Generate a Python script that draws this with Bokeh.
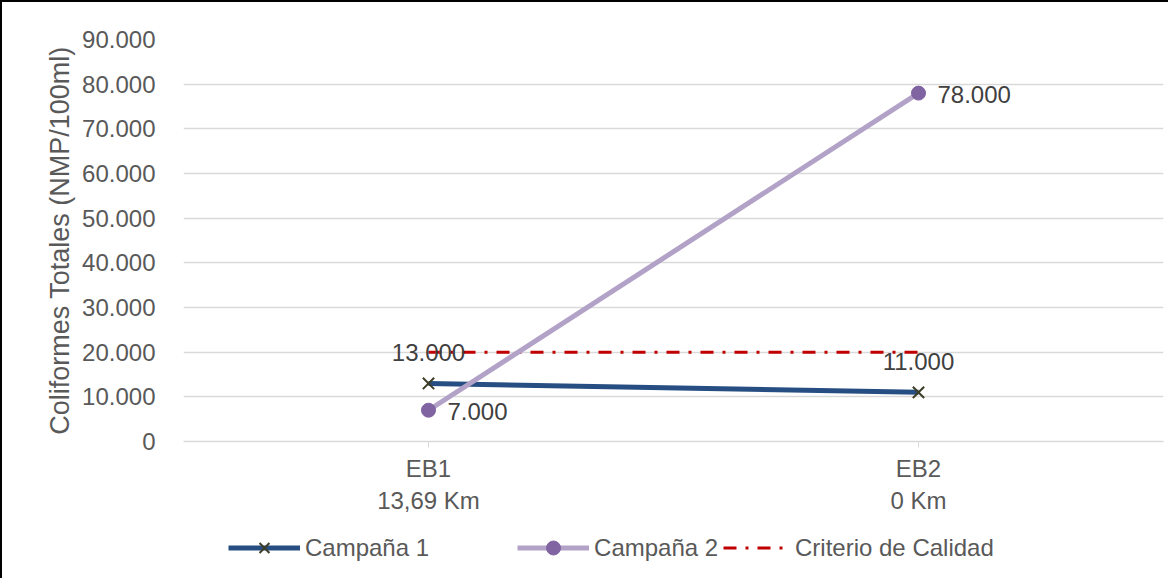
from bokeh.plotting import figure
from bokeh.layouts import column
from bokeh.models import FixedTicker, Legend, LegendItem, ColumnDataSource
from bokeh.core.properties import value
from bokeh.embed import file_html
from bokeh.resources import INLINE

# ---- data ----
stations = ["EB1\n13,69 Km", "EB2\n0 Km"]
campana1 = [13000, 11000]
campana2 = [7000, 78000]
criterio = [20000, 20000]
y_ticks = [0, 10000, 20000, 30000, 40000, 50000, 60000, 70000, 80000, 90000]
series_names = ["Campaña 1", "Campaña 2", "Criterio de Calidad"]


def fmt(v):
    return f"{v:,}".replace(",", ".")


FONT = "Liberation Sans"
FS = "24px"
C1_LINE, C1_MARK = "#264e82", "#3d3d28"
C2_LINE, C2_MARK = "#b3a2c7", "#8064a2"
CR_LINE = "#c00000"

p = figure(x_range=stations, y_range=(0, 90000), width=1168, height=516,
           output_backend="svg", toolbar_location=None,
           min_border_left=181, min_border_right=7, min_border_top=37,
           min_border_bottom=77)
p.x_range.range_padding = 0
p.outline_line_color = None
p.styles = {"border-left": "2px solid black", "border-top": "2px solid black"}

# axes
p.yaxis.ticker = FixedTicker(ticks=y_ticks)
p.yaxis.major_label_overrides = {v: fmt(v) for v in y_ticks}
p.yaxis.axis_line_color = None
p.yaxis.major_tick_line_color = None
p.yaxis.minor_tick_line_color = None
p.yaxis.major_label_text_font = FONT
p.yaxis.major_label_text_font_size = FS
p.yaxis.major_label_text_color = "#595959"
p.yaxis.major_label_standoff = 22
p.yaxis.axis_label = "Coliformes Totales (NMP/100ml)"
p.yaxis.axis_label_text_font = FONT
p.yaxis.axis_label_text_font_size = "27px"
p.yaxis.axis_label_text_font_style = "normal"
p.yaxis.axis_label_text_color = "#595959"
p.yaxis.axis_label_standoff = 4

p.xaxis.axis_line_color = "#d9d9d9"
p.xaxis.axis_line_width = 1.5
p.xaxis.major_tick_line_color = "#d9d9d9"
p.xaxis.major_tick_in = 0
p.xaxis.major_tick_out = 6
p.xaxis.major_label_text_font = FONT
p.xaxis.major_label_text_font_size = FS
p.xaxis.major_label_text_color = "#595959"
p.xaxis.major_label_standoff = 7

p.xgrid.grid_line_color = None
p.ygrid.grid_line_color = "#d9d9d9"
p.ygrid.grid_line_width = 1.5

src = ColumnDataSource(dict(x=stations, c1=campana1, c2=campana2, cr=criterio,
                            l1=[fmt(v) for v in campana1],
                            l2=[fmt(v) for v in campana2]))


def draw(fig):
    r_cr = fig.line("x", "cr", source=src, line_color=CR_LINE, line_width=3,
                    line_dash="13 9 3 9")
    r_c1 = fig.line("x", "c1", source=src, line_color=C1_LINE, line_width=5)
    r_c1m = fig.scatter("x", "c1", source=src, marker="x", size=16,
                        line_color=C1_MARK, line_width=2)
    r_c2 = fig.line("x", "c2", source=src, line_color=C2_LINE, line_width=5)
    r_c2m = fig.scatter("x", "c2", source=src, marker="circle", size=14,
                        fill_color=C2_MARK, line_color=C2_MARK)
    return [[r_c1, r_c1m], [r_c2, r_c2m], [r_cr]]


draw(p)

# data labels
lab_kw = dict(text_font_size=FS, text_color="#404040", text_font=value(FONT))
p.text("x", "c1", text="l1", source=src, text_align="center",
       text_baseline="middle", y_offset=-31, **lab_kw)
p.text("x", "c2", text="l2", source=src, text_align="left",
       text_baseline="middle", x_offset=19, y_offset=1, **lab_kw)

# legend strip (same series, drawn only as legend keys)
p2 = figure(x_range=stations, y_range=(1e6, 2e6), width=1168, height=62,
            output_backend="svg", toolbar_location=None,
            x_axis_type=None, y_axis_type=None,
            min_border_left=0, min_border_right=0, min_border_top=0,
            min_border_bottom=0)
p2.outline_line_color = None
p2.grid.grid_line_color = None
p2.styles = {"border-left": "2px solid black"}
rends = draw(p2)


def make_legend(names, rs, loc, gw, standoff):
    lg = Legend(items=[LegendItem(label=n, renderers=r) for n, r in zip(names, rs)],
                orientation="horizontal", location=loc)
    lg.label_text_font = FONT
    lg.label_text_font_size = FS
    lg.label_text_color = "#595959"
    lg.glyph_width = gw
    lg.glyph_height = 35
    lg.label_standoff = standoff
    lg.spacing = 88
    lg.padding = 0
    lg.margin = 0
    lg.border_line_color = None
    lg.background_fill_alpha = 0
    return lg


p2.add_layout(make_legend(series_names[:2], rends[:2], (45, 13), 72, 5), "center")
p2.add_layout(make_legend(series_names[2:], rends[2:], (540, 13), 64, 8), "center")

open("out.html", "w").write(file_html(column(p, p2, spacing=0), INLINE))
